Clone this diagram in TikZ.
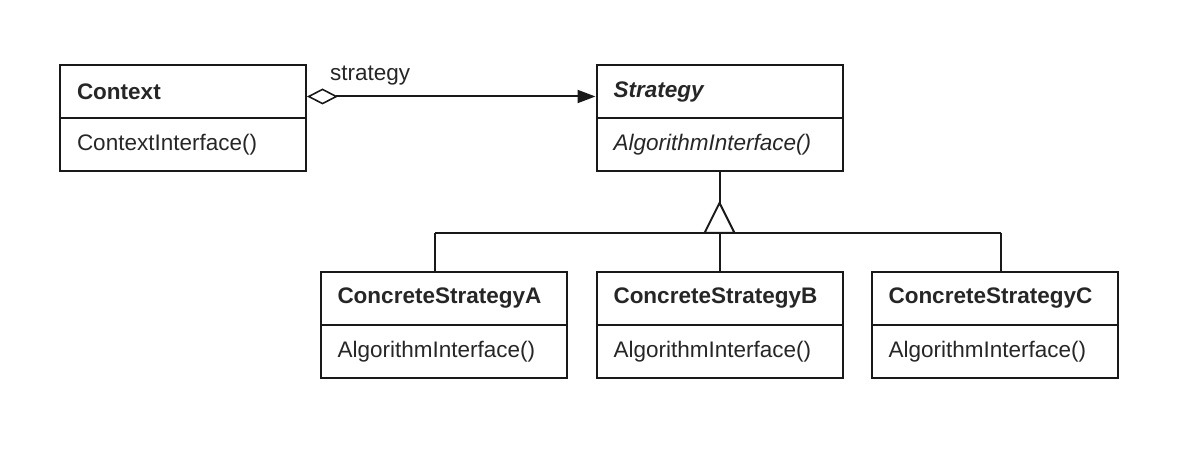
\documentclass[tikz,border=0pt]{standalone}
\usepackage{fontspec}
\setmainfont{Liberation Sans}
\usetikzlibrary{arrows.meta,calc}
\begin{document}
\begin{tikzpicture}[x=1pt,y=1pt,
  line width=2pt,
  cls/.style={draw=black!90, line width=2pt, rectangle, minimum width=246pt, text width=212pt,
    inner xsep=17pt, inner ysep=0pt, align=left, font=\fontsize{22.5}{26}\selectfont,
    text=black!85, anchor=center},
  namebox/.style={cls, minimum height=53pt, font=\bfseries\fontsize{22.5}{26}\selectfont},
  methbox/.style={cls, minimum height=53pt},
  lbl/.style={font=\fontsize{22.5}{26}\selectfont, text=black!85, inner sep=1pt}
]
\useasboundingbox (0,0) rectangle (1189,474);
% Context
\node[namebox] (ctx) at (183,382.5) {Context};
\node[methbox] (ctxm) at (183,329) {ContextInterface()};
% Strategy
\node[namebox, font=\bfseries\itshape\fontsize{22.5}{26}\selectfont] (str) at (719.5,382.5) {Strategy};
\node[methbox, font=\itshape\fontsize{22.5}{26}\selectfont] (strm) at (719.5,329) {AlgorithmInterface()};
% Concrete strategies
\node[namebox] (ca) at (443.5,175.5) {ConcreteStrategyA};
\node[methbox] (cam) at (443.5,122) {AlgorithmInterface()};
\node[namebox] (cb) at (719.5,175.5) {ConcreteStrategyB};
\node[methbox] (cbm) at (719.5,122) {AlgorithmInterface()};
\node[namebox] (cc) at (994.5,175.5) {ConcreteStrategyC};
\node[methbox] (ccm) at (994.5,122) {AlgorithmInterface()};
% association
\draw[draw=black!90, {Diamond[open,length=31pt,width=16pt,line width=1.6pt]}-{Triangle[length=18pt,width=13pt]}]
  ([yshift=-5pt]ctx.east) -- ([yshift=-5pt]str.west);
\node[lbl, anchor=west] (lab) at (328,398) {strategy};
% inheritance
\coordinate (apex) at (719.5,271);
\coordinate (barL) at (435,241);
\coordinate (barR) at (1001,241);
\draw[draw=black!90] (strm.south) -- (apex);
\draw[draw=black!90, line join=miter] (apex) -- ++(-15,-30) -- ++(30,0) -- cycle;
\draw[draw=black!90] (barL) -- (barR);
\draw[draw=black!90] (barL) -- (barL |- ca.north);
\draw[draw=black!90] (barR) -- (barR |- cc.north);
\draw[draw=black!90] (cb.north |- barL) -- (cb.north);
\end{tikzpicture}
\end{document}
